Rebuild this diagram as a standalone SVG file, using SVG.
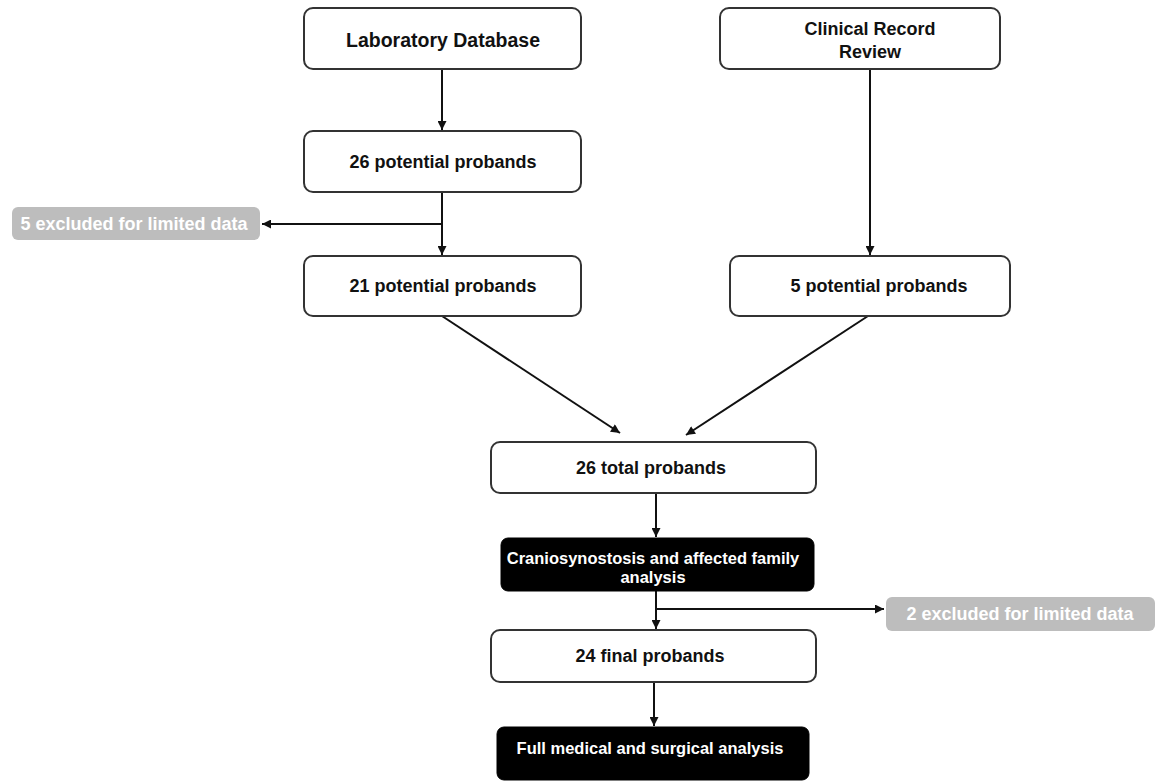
<svg xmlns="http://www.w3.org/2000/svg" width="1157" height="781" viewBox="0 0 1157 781">
  <style>
    .box { fill: #ffffff; stroke: #333333; stroke-width: 2; }
    .dark { fill: #000000; stroke: #000000; stroke-width: 1; }
    .grey { fill: #bdbdbd; stroke: none; }
    .t { font-family: "Liberation Sans", Arial, sans-serif; font-weight: bold; font-size: 18px; fill: #111111; text-anchor: middle; }
    .tw { font-family: "Liberation Sans", Arial, sans-serif; font-weight: bold; font-size: 16.5px; fill: #ffffff; text-anchor: middle; }
    .tg { font-family: "Liberation Sans", Arial, sans-serif; font-weight: bold; font-size: 18px; fill: #ffffff; text-anchor: middle; }
    .c { fill: none; stroke: #111111; stroke-width: 2; }
  </style>
  <defs>
    <marker id="arr" viewBox="0 0 10 10" refX="10" refY="5" markerWidth="10" markerHeight="9" markerUnits="userSpaceOnUse" orient="auto">
      <path d="M0 0 L10 5 L0 10 Z" fill="#111111"/>
    </marker>
  </defs>
  <rect width="1157" height="781" fill="#ffffff"/>

  <g id="connectors">
    <path class="c" d="M442 70 L442 130" marker-end="url(#arr)"/>
    <path class="c" d="M442 192 L442 255" marker-end="url(#arr)"/>
    <path class="c" d="M442 224 L262 224" marker-end="url(#arr)"/>
    <path class="c" d="M870 70 L870 255" marker-end="url(#arr)"/>
    <path class="c" d="M442 316 L620 433" marker-end="url(#arr)"/>
    <path class="c" d="M868 316 L686 435" marker-end="url(#arr)"/>
    <path class="c" d="M656 493 L656 537" marker-end="url(#arr)"/>
    <path class="c" d="M656 591 L656 629" marker-end="url(#arr)"/>
    <path class="c" d="M656 609 L884 609" marker-end="url(#arr)"/>
    <path class="c" d="M654 682 L654 726" marker-end="url(#arr)"/>
  </g>

  <g id="lab-database">
    <rect class="box" x="304" y="8" width="277" height="61" rx="9"/>
    <text class="t" x="443" y="47" style="font-size:19.5px">Laboratory Database</text>
  </g>
  <g id="clinical-record">
    <rect class="box" x="720" y="8" width="280" height="61" rx="9"/>
    <text class="t" x="870" y="35">Clinical Record</text>
    <text class="t" x="870" y="58">Review</text>
  </g>
  <g id="potential-26">
    <rect class="box" x="304" y="131" width="277" height="61" rx="9"/>
    <text class="t" x="443" y="168">26 potential probands</text>
  </g>
  <g id="excluded-5">
    <rect class="grey" x="12" y="207" width="248" height="33" rx="6"/>
    <text class="tg" x="134" y="230">5 excluded for limited data</text>
  </g>
  <g id="potential-21">
    <rect class="box" x="304" y="256" width="277" height="60" rx="9"/>
    <text class="t" x="443" y="292">21 potential probands</text>
  </g>
  <g id="potential-5">
    <rect class="box" x="730" y="256" width="280" height="60" rx="9"/>
    <text class="t" x="879" y="292">5 potential probands</text>
  </g>
  <g id="total-26">
    <rect class="box" x="491" y="442" width="325" height="51" rx="9"/>
    <text class="t" x="651" y="474">26 total probands</text>
  </g>
  <g id="cranio">
    <rect class="dark" x="501" y="538" width="313" height="53" rx="7"/>
    <text class="tw" x="653" y="564">Craniosynostosis and affected family</text>
    <text class="tw" x="653" y="583">analysis</text>
  </g>
  <g id="excluded-2">
    <rect class="grey" x="886" y="597" width="269" height="34" rx="6"/>
    <text class="tg" x="1020" y="620">2 excluded for limited data</text>
  </g>
  <g id="final-24">
    <rect class="box" x="491" y="630" width="325" height="52" rx="9"/>
    <text class="t" x="650" y="662">24 final probands</text>
  </g>
  <g id="full-analysis">
    <rect class="dark" x="497" y="727" width="312" height="53" rx="7"/>
    <text class="tw" x="650" y="754">Full medical and surgical analysis</text>
  </g>
</svg>
